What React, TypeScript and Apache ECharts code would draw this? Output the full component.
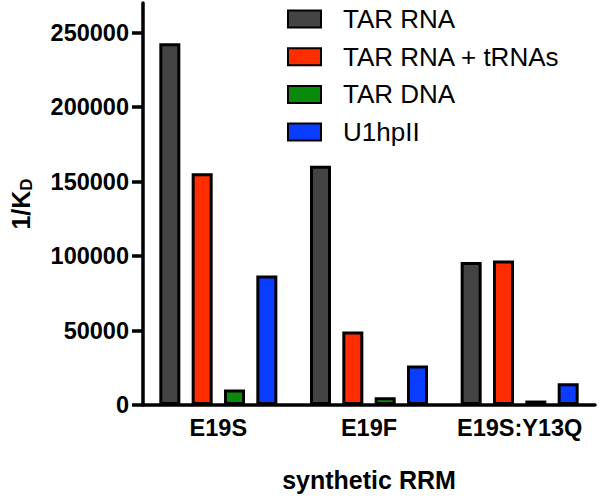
import React, { useEffect, useRef } from "react";
import * as echarts from "echarts";

const categories = ["E19S", "E19F", "E19S:Y13Q"];
const seriesNames = ["TAR RNA", "TAR RNA + tRNAs", "TAR DNA", "U1hpII"];
const tarRna = [243000, 160700, 96000];
const tarRnaTrnas = [155700, 49400, 97100];
const tarDna = [10400, 5200, 3000];
const u1hpII = [87000, 26500, 14600];
const yTicks = [0, 50000, 100000, 150000, 200000, 250000];
const colors = ["#444444", "#ff2d00", "#0a8a0a", "#0a3dff"];

const FONT = "'Liberation Sans', Arial, sans-serif";

export default function App() {
  const ref = useRef<HTMLDivElement>(null);
  useEffect(() => {
    document.body.style.margin = "0";
    if (!ref.current) return;
    const chart = echarts.init(ref.current, null, { renderer: "svg" });
    const values = [tarRna, tarRnaTrnas, tarDna, u1hpII];
    chart.setOption({
      animation: false,
      backgroundColor: "#ffffff",
      grid: { left: 142, right: 5, top: 3, bottom: 93, containLabel: false },
      legend: {
        orient: "vertical",
        left: 282,
        top: 1,
        padding: 5,
        icon: "rect",
        itemWidth: 33,
        itemHeight: 17,
        itemGap: 11.7,
        textStyle: {
          fontSize: 26,
          color: "#000",
          fontFamily: FONT,
          lineHeight: 26,
          padding: [0, 0, 0, 17],
        },
        data: seriesNames,
      },
      xAxis: {
        type: "category",
        data: categories,
        name: "synthetic RRM",
        nameLocation: "middle",
        nameGap: 62,
        nameTextStyle: { fontSize: 25, fontWeight: "bold", color: "#000", fontFamily: FONT },
        axisLine: { lineStyle: { color: "#000", width: 3.5 } },
        axisTick: { alignWithLabel: true, length: 11, lineStyle: { color: "#000", width: 3.5 } },
        axisLabel: {
          interval: 0,
          fontSize: 23.5,
          fontWeight: "bold",
          color: "#000",
          fontFamily: FONT,
          margin: 11,
        },
      },
      yAxis: {
        type: "value",
        min: 0,
        max: 270000,
        interval: 50000,
        name: "1/K{sub|D}",
        nameLocation: "middle",
        nameGap: 108,
        nameTextStyle: {
          fontSize: 25,
          fontWeight: "bold",
          color: "#000",
          fontFamily: FONT,
          rich: {
            sub: {
              fontSize: 17,
              fontWeight: "bold",
              color: "#000",
              fontFamily: FONT,
              verticalAlign: "bottom",
              padding: [12, 0, 0, 0],
            },
          },
        },
        splitLine: { show: false },
        axisLine: { show: true, lineStyle: { color: "#000", width: 3.5 } },
        axisTick: {
          show: true,
          length: 11,
          lineStyle: { color: "#000", width: 3.5 },
          customValues: yTicks,
        },
        axisLabel: {
          fontSize: 23.5,
          fontWeight: "bold",
          color: "#000",
          fontFamily: FONT,
          margin: 14,
          customValues: yTicks,
          formatter: (v: number) => String(v),
        },
      },
      series: seriesNames.map((n, i) => ({
        name: n,
        type: "bar",
        data: values[i],
        barWidth: 21,
        barGap: "54%",
        itemStyle: { color: colors[i], borderColor: "#000", borderWidth: 3 },
      })),
    });
    return () => chart.dispose();
  }, []);
  return <div ref={ref} style={{ width: 600, height: 498 }} />;
}
